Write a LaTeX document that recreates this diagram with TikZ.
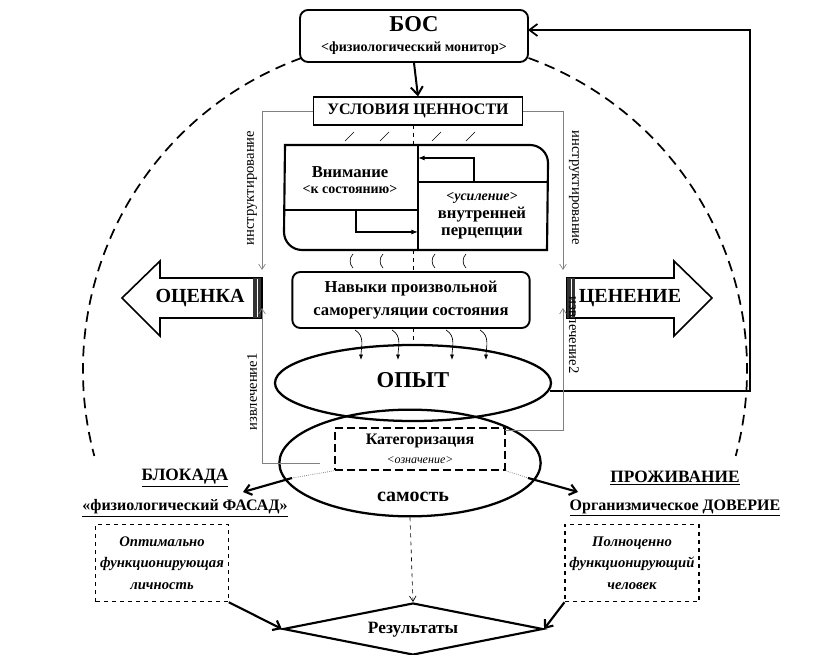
\documentclass[tikz,border=0pt]{standalone}
\usepackage{fontspec}
\setmainfont{Liberation Serif}
\usetikzlibrary{arrows.meta,shapes.geometric}
\tikzset{
 box/.style={draw,line width=1.4pt,align=center,font=\bfseries\fontsize{12}{14}\selectfont},
 glin/.style={draw=gray,line width=0.5pt},
 gar/.style={glin,-{Straight Barb[length=4pt,width=5pt]}},
 thk/.style={line width=1.5pt,-{Straight Barb[length=6pt,width=9pt]}},
 rotl/.style={font=\fontsize{11}{12}\selectfont},
 lbl/.style={font=\bfseries\fontsize{12.5}{14}\selectfont,align=center},
 dbox/.style={draw,dashed,line width=0.9pt,align=center,font=\itshape\bfseries\fontsize{11}{16}\selectfont},
 fatarrow/.style={draw,line width=1.2pt,fill=white},
}
\begin{document}
\begin{tikzpicture}[x=0.75pt,y=-0.75pt]
\useasboundingbox (0,0) rectangle (831,655);
\coordinate (cc) at (415,370);
\draw[line width=1.3pt,dash pattern=on 8pt off 5pt] ([shift={(cc)}]110:249pt) arc[start angle=110,end angle=195,radius=249pt];
\draw[line width=1.3pt,dash pattern=on 8pt off 5pt] ([shift={(cc)}]70:249pt) arc[start angle=70,end angle=-15,radius=249pt];
% BOS
\node[box,rounded corners=6pt,fill=white,minimum width=171pt,minimum height=39pt] (bos) at (414,36) {};
\node[font=\bfseries\fontsize{17}{18}\selectfont] (bost) at (414,24) {БОС};
\node[font=\bfseries\fontsize{10.5}{12}\selectfont] (bosm) at (414,48) {<физиологический монитор>};
% usloviya
\node[box,minimum width=157pt,minimum height=21pt,line width=0.8pt,inner sep=1pt] (usl) at (418,111) {УСЛОВИЯ ЦЕННОСТИ};
\draw[thk] (bos.south) -- (usl.north);
% gray lines
\coordinate (lt) at (262,111); \coordinate (rt) at (563,111);
\coordinate (lb1) at (262,270); \coordinate (rb1) at (563,270);
\draw[gar] (usl.west) -- (lt) -- (lb1);
\draw[gar] (usl.east) -- (rt) -- (rb1);
\node[rotl,rotate=90] (ins1) at (252,188) {инструктирование};
\node[rotl,rotate=-90] (ins2) at (574,188) {инструктирование};
% attention box
\draw[line width=1.6pt] (285,145) -- (530,145) arc[start angle=90,end angle=0,radius=13.5pt] -- (547,250) -- (302,250) arc[start angle=270,end angle=180,radius=13.5pt] -- cycle;
\draw[line width=1.6pt] (418,145) -- (418,250);
\draw[line width=1.6pt] (285,210) -- (418,210);
\draw[line width=1.6pt] (418,182) -- (547,182);
\node[lbl] (vn) at (350,180) {Внимание\\[-2pt]{\fontsize{10.5}{12}\selectfont<к состоянию>}};
\node[lbl] (us) at (482,216) {{\itshape\fontsize{10.5}{12}\selectfont<усиление>}\\[-1pt]внутренней\\[-1pt]перцепции};
\draw[line width=0.8pt,-{Latex[length=5pt]}] (474,182) -- (474,158) -- (418,158);
\draw[line width=0.8pt,-{Latex[length=5pt]}] (356,210) -- (356,232) -- (418,232);
\draw[dashed,line width=0.6pt] (413,125) -- (413,145);
\foreach \x in {345,380,432,466} \draw[line width=0.5pt] (\x,141) -- (\x+9,132);
\foreach \x in {350,380,432,463} \draw[line width=0.5pt] (\x+3,254) to[bend right=45] (\x+3,268);
\draw[dashed,line width=0.6pt] (413,250) -- (413,272);
% navyki
\node[box,rounded corners=6pt,minimum width=178pt,minimum height=42pt,font=\bfseries\fontsize{12.5}{17}\selectfont] (nav) at (411,300) {Навыки произвольной\\саморегуляции состояния};
% arrows OCENKA
\draw[fatarrow] (122,298) -- (160,261) -- (160,278) -- (262,278) -- (262,318) -- (160,318) -- (160,336) -- cycle;
\fill[black!80] (253,278) rectangle (261,318);
\draw[white,line width=0.6pt] (257,279) -- (257,317);
\node[font=\bfseries\fontsize{15}{16}\selectfont] (oc) at (200,298) {ОЦЕНКА};
\draw[fatarrow] (712,298) -- (674,261) -- (674,278) -- (567,278) -- (567,318) -- (674,318) -- (674,336) -- cycle;
\fill[black!80] (567,278) rectangle (575,318);
\draw[white,line width=0.6pt] (571,279) -- (571,317);
\node[font=\bfseries\fontsize{15}{16}\selectfont] (cen) at (630,298) {ЦЕНЕНИЕ};
% wavy arrows
\foreach \x in {355,392,446,480} \draw[line width=0.5pt,-{Latex[length=4pt,width=3pt]}] (\x,330) to[out=-30,in=90] (\x+6,360);
\draw[dashed,line width=0.6pt] (413,328) -- (413,345);
% ellipses
\node[draw,ellipse,line width=1.7pt,minimum width=207pt,minimum height=57pt] (op) at (413,383) {};
\node[draw,ellipse,line width=1.7pt,minimum width=196pt,minimum height=80pt] (sam) at (410,463) {};
\node[font=\bfseries\fontsize{17}{18}\selectfont] (opt) at (413,380) {ОПЫТ};
\node[font=\bfseries\fontsize{15}{16}\selectfont] (samt) at (413,497) {самость};
\node[draw,line width=1.6pt,dash pattern=on 6pt off 3pt,fill=white,minimum width=127pt,minimum height=31pt,align=center,inner sep=1pt] (kat) at (420,449) {\bfseries\fontsize{12}{14}\selectfont Категоризация\\[2pt]{\itshape\fontsize{9}{10}\selectfont<означение>}};
% feedback line
\coordinate (fb1) at (550,391); \coordinate (fb2) at (750,391); \coordinate (fb3) at (750,30); \coordinate (fb4) at (528,30);
\draw[line width=1.3pt,-{Straight Barb[length=6pt,width=9pt]}] (fb1) -- (fb2) -- (fb3) -- (fb4);
% izvlechenie
\coordinate (il1) at (320,463); \coordinate (il2) at (262,463); \coordinate (il3) at (262,308);
\coordinate (ir1) at (505,430); \coordinate (ir2) at (563,430); \coordinate (ir3) at (563,308);
\draw[gar] (il1) -- (il2) -- (il3);
\draw[gar] (ir1) -- (ir2) -- (ir3);
\node[rotl,rotate=90] (iz1) at (252,392) {извлечение1};
\node[rotl,rotate=-90] (iz2) at (574,335) {извлечение2};
% blokada / prozhivanie
\node[font=\bfseries\fontsize{13}{16}\selectfont] (blk) at (185,478) {\underline{БЛОКАДА}};
\node[font=\bfseries\fontsize{12}{14}\selectfont] (fas) at (185,508) {\underline{«физиологический ФАСАД»}};
\node[font=\bfseries\fontsize{13}{16}\selectfont] (prj) at (675,478) {\underline{ПРОЖИВАНИЕ}};
\node[font=\bfseries\fontsize{12}{14}\selectfont] (org) at (675,508) {\underline{Организмическое ДОВЕРИЕ}};
\coordinate (al1) at (292,478); \coordinate (al2) at (243,492);
\coordinate (ar1) at (528,478); \coordinate (ar2) at (578,492);
\draw[line width=1.6pt,-{Straight Barb[length=5pt,width=8pt]}] (al1) -- (al2);
\draw[line width=1.6pt,-{Straight Barb[length=5pt,width=8pt]}] (ar1) -- (ar2);
\draw[gray,densely dotted,line width=0.6pt] (kat.south west) -- (al1);
\draw[gray,densely dotted,line width=0.6pt] (kat.south east) -- (ar1);
% dashed boxes
\node[dbox,minimum width=98pt,minimum height=58pt] (lb) at (162,563) {Оптимально\\функционирующая\\личность};
\node[dbox,minimum width=98pt,minimum height=58pt] (rb) at (632,563) {Полноценно\\функционирующий\\человек};
% results
\node[draw,diamond,aspect=5,line width=1.6pt,minimum width=195pt,minimum height=39pt,inner sep=0pt] (res) at (413,629) {};
\node[font=\bfseries\fontsize{13}{14}\selectfont] (rest) at (413,630) {Результаты};
\draw[dashed,line width=0.5pt,-{Straight Barb[length=4pt,width=5pt]}] (sam.south) -- (res.north);
\draw[line width=1.6pt,-{Straight Barb[length=5pt,width=8pt]}] (lb.south east) -- (res.west);
\draw[line width=1.6pt,-{Straight Barb[length=5pt,width=8pt]}] (rb.south west) -- (res.east);
\end{tikzpicture}
\end{document}
